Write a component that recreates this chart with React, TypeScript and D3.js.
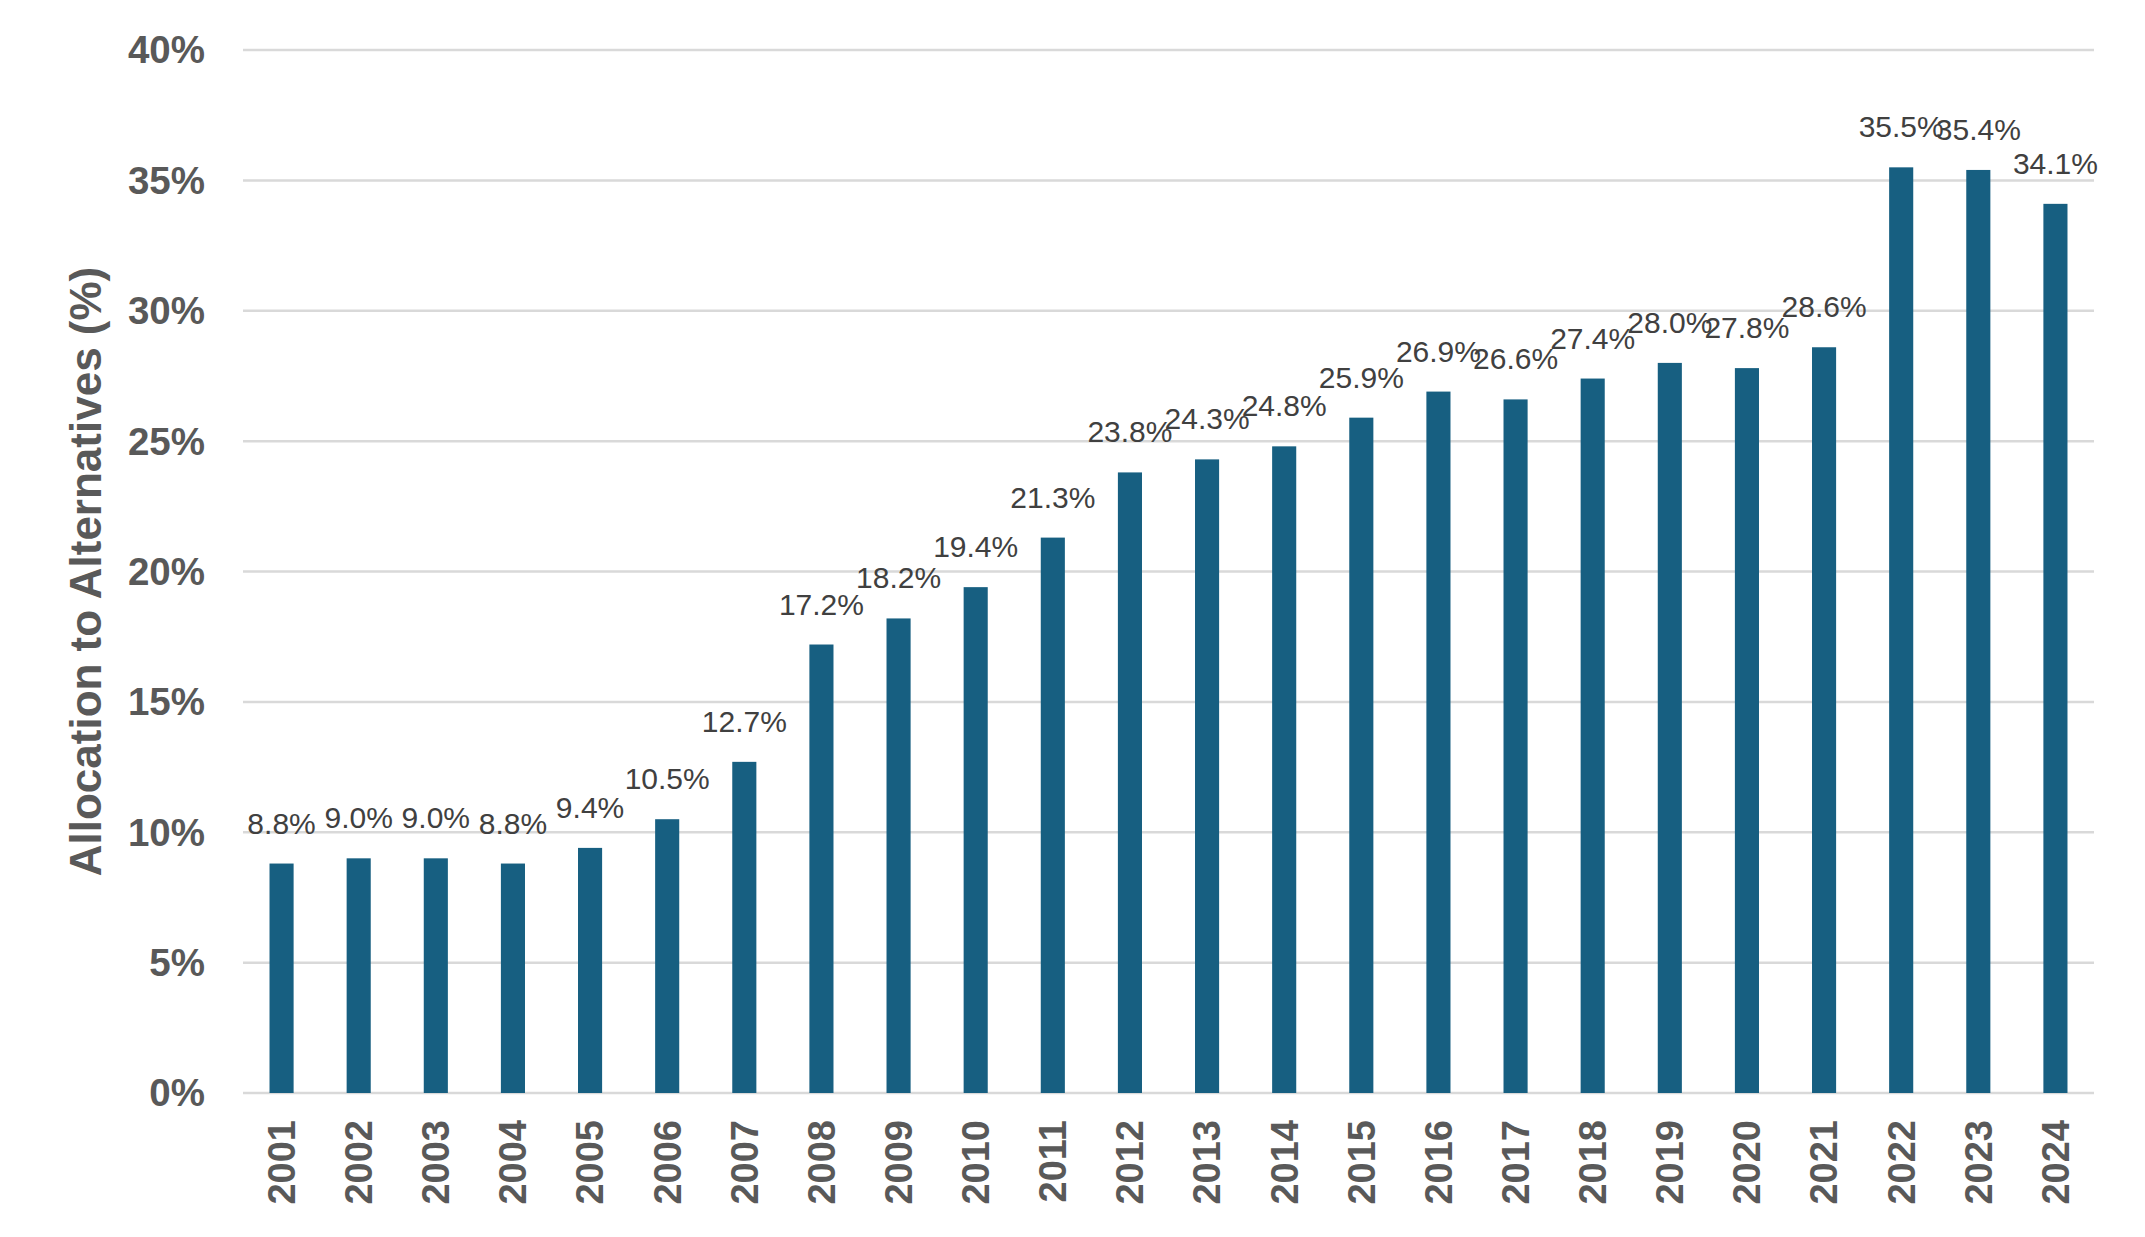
import { useRef, useEffect } from 'react';
import * as d3 from 'd3';

const years = [
  '2001', '2002', '2003', '2004', '2005', '2006', '2007', '2008', '2009', '2010', '2011', '2012',
  '2013', '2014', '2015', '2016', '2017', '2018', '2019', '2020', '2021', '2022', '2023', '2024',
];
const allocation = [
  8.8, 9.0, 9.0, 8.8, 9.4, 10.5, 12.7, 17.2, 18.2, 19.4, 21.3, 23.8,
  24.3, 24.8, 25.9, 26.9, 26.6, 27.4, 28.0, 27.8, 28.6, 35.5, 35.4, 34.1,
];
const yTicks = [0, 5, 10, 15, 20, 25, 30, 35, 40];

const WIDTH = 2145;
const HEIGHT = 1237;
const FONT = "'Liberation Sans', Arial, sans-serif";

export default function App() {
  const svgRef = useRef<SVGSVGElement>(null);

  useEffect(() => {
    const svg = d3.select(svgRef.current);
    svg.selectAll('*').remove();

    const left = 243;
    const right = 2094;
    const top = 50;
    const bottom = 1093;

    const x = d3.scaleBand<string>()
      .domain(years)
      .range([left, right])
      .paddingInner(0.6875)
      .paddingOuter(0.34375);

    const y = d3.scaleLinear().domain([0, 40]).range([bottom, top]);

    // Gridlines (0% doubles as the axis line)
    svg.append('g')
      .selectAll('line')
      .data(yTicks)
      .join('line')
      .attr('x1', left)
      .attr('x2', right)
      .attr('y1', (d) => y(d))
      .attr('y2', (d) => y(d))
      .attr('stroke', '#d9d9d9')
      .attr('stroke-width', 2.5);

    // Y tick labels
    svg.append('g')
      .selectAll('text')
      .data(yTicks)
      .join('text')
      .attr('x', 205)
      .attr('y', (d) => y(d))
      .attr('dy', '0.35em')
      .attr('text-anchor', 'end')
      .attr('fill', '#595959')
      .attr('font-family', FONT)
      .attr('font-size', '38.5px')
      .attr('font-weight', 'bold')
      .text((d) => `${d}%`);

    const data = years.map((yr, i) => ({ yr, v: allocation[i] }));

    // Bars
    svg.append('g')
      .selectAll('rect')
      .data(data)
      .join('rect')
      .attr('x', (d) => x(d.yr)!)
      .attr('y', (d) => y(d.v))
      .attr('width', x.bandwidth())
      .attr('height', (d) => y(0) - y(d.v))
      .attr('fill', '#175f81');

    // Value labels
    svg.append('g')
      .selectAll('text')
      .data(data)
      .join('text')
      .attr('x', (d) => x(d.yr)! + x.bandwidth() / 2)
      .attr('y', (d) => y(d.v) - 30)
      .attr('text-anchor', 'middle')
      .attr('fill', '#404040')
      .attr('font-family', FONT)
      .attr('font-size', '30px')
      .text((d) => `${d.v.toFixed(1)}%`);

    // X tick labels, rotated
    svg.append('g')
      .selectAll('text')
      .data(years)
      .join('text')
      .attr('transform', (d) => `translate(${x(d)! + x.bandwidth() / 2},${bottom + 27}) rotate(-90)`)
      .attr('dy', '0.35em')
      .attr('text-anchor', 'end')
      .attr('fill', '#595959')
      .attr('font-family', FONT)
      .attr('font-size', '38px')
      .attr('font-weight', 'bold')
      .text((d) => d);

    // Y axis title
    svg.append('text')
      .attr('transform', `translate(101,${(top + bottom) / 2}) rotate(-90)`)
      .attr('text-anchor', 'middle')
      .attr('fill', '#595959')
      .attr('font-family', FONT)
      .attr('font-size', '44px')
      .attr('font-weight', 'bold')
      .text('Allocation to Alternatives (%)');
  }, []);

  return (
    <svg
      ref={svgRef}
      width={WIDTH}
      height={HEIGHT}
      viewBox={`0 0 ${WIDTH} ${HEIGHT}`}
      style={{ position: 'absolute', left: 0, top: 0, background: '#ffffff' }}
    />
  );
}
